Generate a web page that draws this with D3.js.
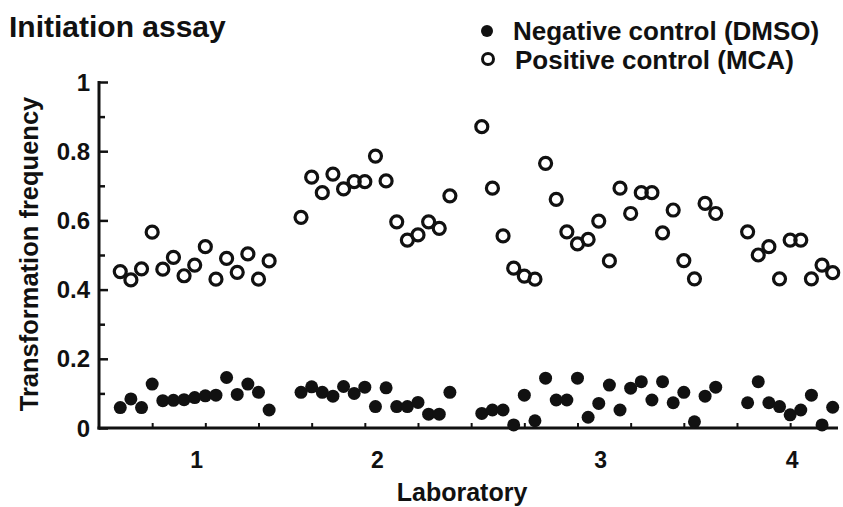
<!DOCTYPE html>
<html><head><meta charset="utf-8">
<script src="https://cdn.jsdelivr.net/npm/d3@7"></script>
<style>
html,body{margin:0;padding:0;background:#fff;}
svg{display:block;font-family:"Liberation Sans",Arial,Helvetica,sans-serif;font-weight:bold;}
</style></head>
<body>
<svg id="chart" width="843" height="507"></svg>
<script>
const title = "Initiation assay";
const xTitle = "Laboratory";
const yTitle = "Transformation frequency";
const seriesNames = ["Negative control (DMSO)", "Positive control (MCA)"];
const labs = ["1", "2", "3", "4"];
const labStartRun = [2, 19, 36, 61];
const negative = [
  [0.059, 0.084, 0.059, 0.127, 0.079, 0.080, 0.082, 0.088, 0.093, 0.095, 0.146, 0.097, 0.127, 0.103, 0.052],
  [0.103, 0.119, 0.103, 0.092, 0.120, 0.100, 0.118, 0.062, 0.116, 0.062, 0.062, 0.074, 0.040, 0.040, 0.103],
  [0.042, 0.052, 0.052, 0.009, 0.095, 0.021, 0.144, 0.081, 0.081, 0.144, 0.031, 0.071, 0.124, 0.052, 0.115, 0.134, 0.081, 0.134, 0.073, 0.103, 0.018, 0.092, 0.118],
  [0.073, 0.134, 0.073, 0.062, 0.038, 0.052, 0.095, 0.009, 0.060]
];
const positive = [
  [0.452, 0.428, 0.460, 0.566, 0.459, 0.493, 0.440, 0.471, 0.524, 0.430, 0.490, 0.450, 0.503, 0.430, 0.483],
  [0.609, 0.725, 0.680, 0.734, 0.691, 0.712, 0.712, 0.786, 0.714, 0.596, 0.543, 0.558, 0.596, 0.577, 0.671],
  [0.871, 0.693, 0.555, 0.462, 0.439, 0.430, 0.765, 0.661, 0.567, 0.532, 0.545, 0.598, 0.483, 0.693, 0.620, 0.680, 0.680, 0.564, 0.630, 0.484, 0.431, 0.649, 0.620],
  [0.567, 0.500, 0.524, 0.431, 0.543, 0.543, 0.431, 0.471, 0.449]
];
const yMajorTicks = [0, 0.2, 0.4, 0.6, 0.8, 1];
const yTickLabels = ["0", "0.2", "0.4", "0.6", "0.8", "1"];
const yMinorTicks = [0.1, 0.3, 0.5, 0.7, 0.9];
const xRunTicks = [5, 10, 15, 20, 25, 30, 35, 40, 45, 50, 55, 60, 65];

const svg = d3.select("#chart");
const ink = "#111";
const x = d3.scaleLinear().domain([0, 69.5]).range([99, 838]);
const y = d3.scaleLinear().domain([0, 1]).range([428, 82]);

function pts(arr) {
  const out = [];
  arr.forEach((vals, li) => vals.forEach((v, k) => out.push({run: labStartRun[li] + k, v})));
  return out;
}

// Y axis
const yAxis = svg.append("g").attr("transform", `translate(${x(0)},0)`);
yAxis.call(d3.axisRight(y).tickValues(yMajorTicks).tickSize(9).tickFormat(""));
yAxis.append("g").call(d3.axisRight(y).tickValues(yMinorTicks).tickSize(6).tickFormat(""));
yAxis.selectAll(".domain").remove();
yAxis.selectAll("line").attr("stroke", ink).attr("stroke-width", 2.5);
svg.append("line").attr("x1", x(0)).attr("x2", x(0)).attr("y1", y(1) - 1).attr("y2", y(0) + 1.5)
  .attr("stroke", ink).attr("stroke-width", 3);
svg.append("g").selectAll("text").data(yMajorTicks).join("text")
  .attr("x", 90).attr("y", d => y(d)).attr("dy", "0.36em")
  .attr("text-anchor", "end").attr("font-size", 24).attr("fill", ink)
  .text((d, i) => yTickLabels[i]);

// X axis
const xAxis = svg.append("g").attr("transform", `translate(0,${y(0)})`);
xAxis.call(d3.axisTop(x).tickValues(xRunTicks).tickSize(5).tickFormat(""));
xAxis.selectAll(".domain").remove();
xAxis.selectAll("line").attr("stroke", ink).attr("stroke-width", 2);
svg.append("line").attr("x1", x(0) - 1.5).attr("x2", x(69.5)).attr("y1", y(0)).attr("y2", y(0))
  .attr("stroke", ink).attr("stroke-width", 3);
svg.append("g").selectAll("text").data(labs).join("text")
  .attr("x", (d, i) => x(labStartRun[i] + (negative[i].length - 1) / 2) + 2)
  .attr("y", 468).attr("text-anchor", "middle").attr("font-size", 23).attr("fill", ink)
  .text(d => d);

// Titles
svg.append("text").attr("x", 9).attr("y", 37).attr("font-size", 30).attr("fill", ink).text(title);
svg.append("text").attr("x", 462).attr("y", 501).attr("text-anchor", "middle")
  .attr("font-size", 25).attr("fill", ink).text(xTitle);
svg.append("text").attr("transform", `translate(38,254) rotate(-90)`)
  .attr("text-anchor", "middle").attr("font-size", 25.5).attr("fill", ink).text(yTitle);

// Points
svg.append("g").selectAll("circle").data(pts(positive)).join("circle")
  .attr("cx", d => x(d.run)).attr("cy", d => y(d.v)).attr("r", 6)
  .attr("fill", "none").attr("stroke", ink).attr("stroke-width", 3.2);
svg.append("g").selectAll("circle").data(pts(negative)).join("circle")
  .attr("cx", d => x(d.run)).attr("cy", d => y(d.v)).attr("r", 6.5)
  .attr("fill", ink);

// Legend
const leg = svg.append("g");
leg.append("circle").attr("cx", 487).attr("cy", 31).attr("r", 6).attr("fill", ink);
leg.append("circle").attr("cx", 488).attr("cy", 59).attr("r", 5.5).attr("fill", "none").attr("stroke", ink).attr("stroke-width", 3);
leg.append("text").attr("x", 513).attr("y", 40).attr("font-size", 26).attr("fill", ink).text(seriesNames[0]);
leg.append("text").attr("x", 515).attr("y", 69).attr("font-size", 26).attr("fill", ink).text(seriesNames[1]);
</script>
</body></html>
